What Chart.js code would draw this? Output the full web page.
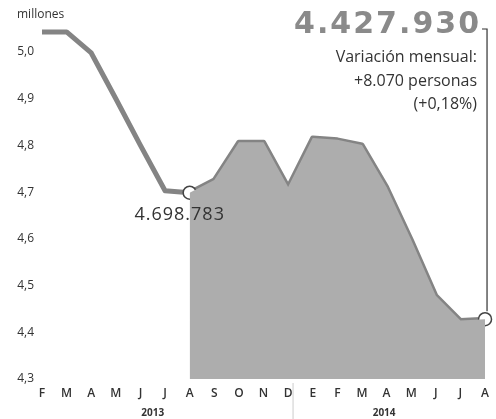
<!DOCTYPE html>
<html>
<head>
<meta charset="utf-8">
<script src="https://cdn.jsdelivr.net/npm/chart.js@4"></script>
<style>
  html, body { margin: 0; padding: 0; background: #fff; }
  #wrap { width: 496px; height: 419px; position: relative; }
</style>
</head>
<body>
<div id="wrap"><canvas id="paroChart"></canvas></div>
<script>
// months Feb 2013 .. Aug 2014 (E = enero)
const months = ["F", "M", "A", "M", "J", "J", "A", "S", "O", "N", "D", "E", "F", "M", "A", "M", "J", "J", "A"];
const years = ["2013", "2014"];
// millones de personas
const parados = [5.043, 5.043, 4.998, 4.9, 4.8, 4.703, 4.698783, 4.726, 4.807, 4.807, 4.711,
                 4.816, 4.812, 4.801, 4.711, 4.598, 4.478, 4.425, 4.42793];
const yTicks = [4.3, 4.4, 4.5, 4.6, 4.7, 4.8, 4.9, 5.0];
const markIdx = [6, 18];
const markLabels = ["4.698.783", "4.427.930"];

const LINE = "#848484";
const FILL = "#adadad";
const TEXT = "#333333";

const shaded = parados.map((v, i) => (i >= markIdx[0] ? v : null));

const extras = {
  id: "extras",
  afterDraw(chart) {
    const ctx = chart.ctx;
    const x = chart.scales.x;
    const y = chart.scales.y;
    ctx.save();

    // unit label
    ctx.fillStyle = TEXT;
    ctx.font = "12px 'Open Sans'";
    ctx.textAlign = "left";
    ctx.textBaseline = "middle";
    ctx.fillText("millones", 17, 15);

    // first marker label
    const p1x = x.getPixelForValue(markIdx[0]);
    const p1y = y.getPixelForValue(parados[markIdx[0]]);
    ctx.font = "18px 'Open Sans'";
    ctx.letterSpacing = "1px";
    ctx.textAlign = "center";
    ctx.fillText(markLabels[0], p1x - 10, p1y + 22);

    // last value box
    const p2x = x.getPixelForValue(markIdx[1]);
    const p2y = y.getPixelForValue(parados[markIdx[1]]);
    ctx.fillStyle = "#8a8a8a";
    ctx.font = "bold 30px 'DejaVu Sans'";
    ctx.letterSpacing = "2px";
    ctx.textAlign = "right";
    ctx.fillText(markLabels[1], 481, 25);
    ctx.letterSpacing = "0px";

    ctx.fillStyle = TEXT;
    ctx.font = "16px 'Open Sans'";
    ctx.fillText("Variación mensual:", 477, 57);
    ctx.fillText("+8.070 personas", 477, 81);
    ctx.fillText("(+0,18%)", 477, 104);

    ctx.strokeStyle = TEXT;
    ctx.lineWidth = 1.2;
    ctx.beginPath();
    ctx.moveTo(482, 29);
    ctx.lineTo(p2x + 2, 29);
    ctx.lineTo(p2x + 2, p2y - 8);
    ctx.stroke();

    // year separator and labels
    const step = x.getPixelForValue(1) - x.getPixelForValue(0);
    const sepX = x.getPixelForValue(10) + step * 0.2;
    ctx.strokeStyle = "#cccccc";
    ctx.lineWidth = 1;
    ctx.beginPath();
    ctx.moveTo(sepX, chart.chartArea.bottom + 4);
    ctx.lineTo(sepX, 419);
    ctx.stroke();

    ctx.fillStyle = TEXT;
    ctx.font = "bold 10px 'Open Sans'";
    ctx.textAlign = "center";
    ctx.fillText(years[0], x.getPixelForValue(0) + step * 4.5, 413);
    ctx.fillText(years[1], x.getPixelForValue(0) + step * 13.9, 413);
    ctx.restore();
  }
};

new Chart(document.getElementById("paroChart"), {
  type: "line",
  data: {
    labels: months,
    datasets: [
      {
        data: shaded,
        borderWidth: 0,
        pointRadius: 0,
        backgroundColor: FILL,
        fill: "start",
        tension: 0,
      },
      {
        data: parados,
        borderColor: LINE,
        borderWidth: 5,
        borderJoinStyle: "round",
        borderCapStyle: "butt",
        fill: false,
        tension: 0,
        pointRadius: parados.map((v, i) => (markIdx.includes(i) ? 6.5 : 0)),
        pointBackgroundColor: "#ffffff",
        pointBorderColor: "#444444",
        pointBorderWidth: 1.5,
        clip: false,
      },
    ],
  },
  options: {
    responsive: true,
    maintainAspectRatio: false,
    animation: false,
    layout: { padding: { top: 24, right: 6, left: 0, bottom: 0 } },
    plugins: { legend: { display: false }, tooltip: { enabled: false } },
    scales: {
      x: {
        offset: false,
        grid: { display: false, drawTicks: false },
        border: { display: false },
        ticks: {
          color: TEXT,
          font: { family: "'Open Sans'", size: 12, weight: "600" },
          padding: 7,
          autoSkip: false,
          maxRotation: 0,
        },
        afterFit(scale) { scale.height = 40; },
      },
      y: {
        min: 4.3,
        max: 5.06,
        grid: { display: false, drawTicks: false },
        border: { display: false },
        ticks: {
          color: TEXT,
          font: { family: "'Open Sans'", size: 12 },
          padding: 8,
          stepSize: 0.1,
          callback: v => v.toFixed(1).replace(".", ","),
        },
        afterBuildTicks(scale) {
          scale.ticks = yTicks.map(v => ({ value: v }));
        },
        afterFit(scale) { scale.width = 42; },
      },
    },
  },
  plugins: [extras],
});
</script>
</body>
</html>
